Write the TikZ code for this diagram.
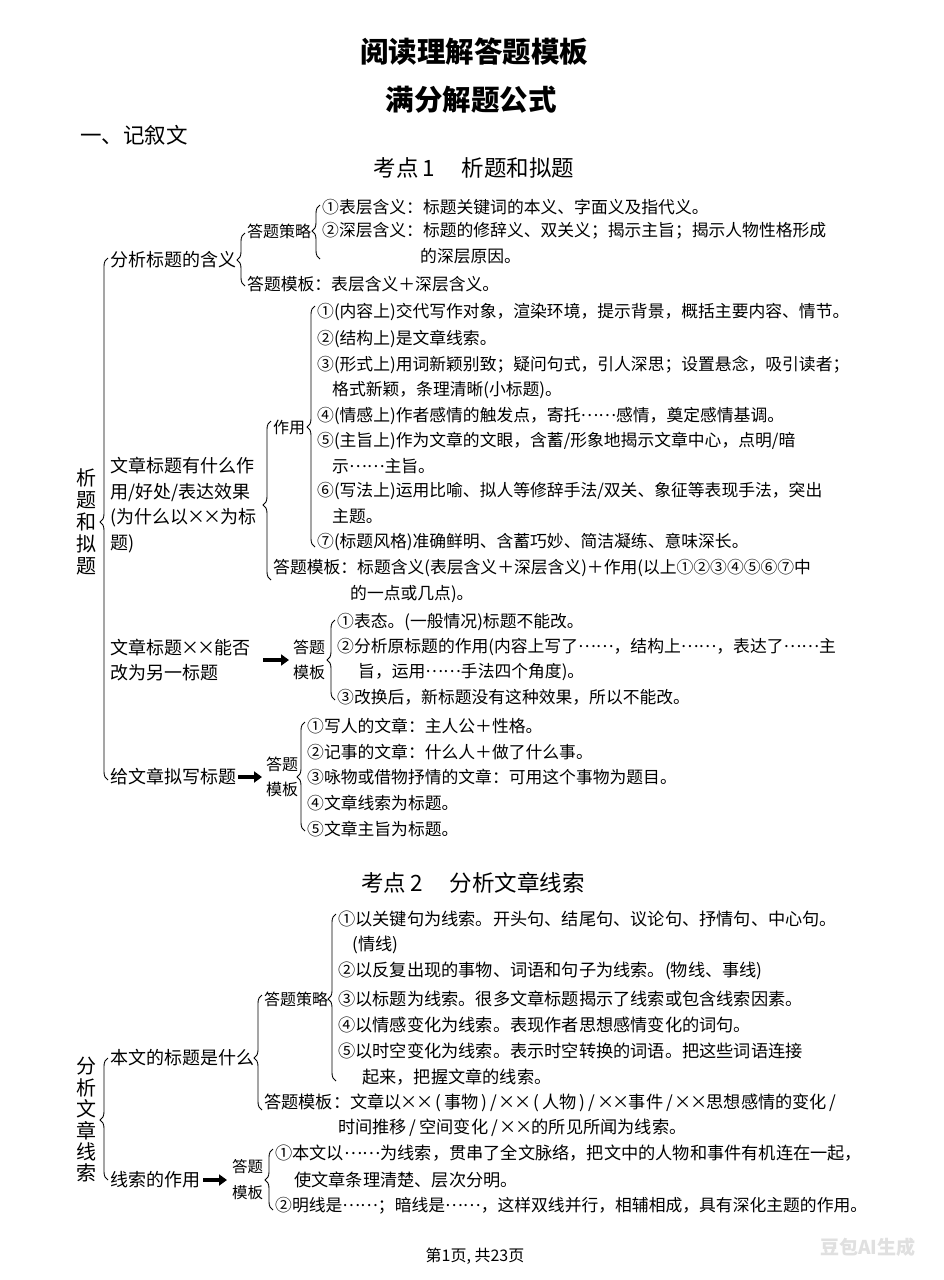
\documentclass[tikz,border=0pt]{standalone}
\usepackage{fontspec}
\setmainfont{Noto Sans CJK SC}
\usetikzlibrary{decorations.pathreplacing,arrows.meta}
\newcommand\mytimes{\makebox[0.9em]{×}}
\newcommand\myell{\raisebox{0.3em}{……}}
\newcommand\mysl{\,/\,}
\newcommand\mybrace[4]{\pgfmathsetmacro\myasp{(#3-#4)/(#3-#2)}%
  \draw[brc,decoration={brace,amplitude=8pt,aspect=\myasp}] (#1+4,#3) -- (#1+4,#2);}
\tikzset{
  body/.style={inner sep=0pt, anchor=west, font=\fontsize{16.8}{26}\selectfont},
  bodyb/.style={inner sep=0pt, anchor=west, font=\fontsize{17.2}{26}\selectfont},
  lab/.style={inner sep=0pt, anchor=west, align=left, font=\fontsize{18}{25.5}\selectfont},
  dt/.style={inner sep=0pt, anchor=west, align=center, font=\fontsize{16}{25}\selectfont},
  vlab/.style={inner sep=0pt, align=center, font=\fontsize{20}{22}\selectfont},
  ttl/.style={inner sep=0pt, font=\bfseries\fontsize{28.5}{30}\selectfont},
  kd/.style={inner sep=0pt, font=\fontsize{22.5}{24}\selectfont},
  brc/.style={decorate, line width=0.9pt},
  fat/.style={line width=3.6pt, -{Triangle[length=8pt,width=11pt]}},
}
\begin{document}
\begin{tikzpicture}[x=1pt,y=-1pt]
\fill[white] (0,0) rectangle (943,1280);
\useasboundingbox (0,0) rectangle (943,1280);

% titles
\node[ttl] (t1) at (474,52) {阅读理解答题模板};
\node[ttl] (t2) at (471,100) {满分解题公式};
\node[inner sep=0pt, anchor=west, font=\fontsize{21.5}{24}\selectfont] (h1) at (80,135) {一、记叙文};
\node[kd] (k1) at (474,168) {考点\,1\hspace{1.2em}析题和拟题};

% vertical labels
\node[vlab] (v1) at (86,522) {析\\题\\和\\拟\\题};
\node[vlab, font=\fontsize{20}{21.4}\selectfont] (v2) at (86,1120) {分\\析\\文\\章\\线\\索};

% level-1 labels
\node[lab] (l1) at (110,260) {分析标题的含义};
\node[lab] (l2) at (110,505) {文章标题有什么作\\用/好处/表达效果\\(为什么以\mytimes\mytimes 为标\\题)};
\node[lab] (l3) at (110,660) {文章标题\mytimes\mytimes 能否\\改为另一标题};
\node[lab] (l4) at (110,777) {给文章拟写标题};
\node[lab] (l5) at (110,1058) {本文的标题是什么};
\node[lab] (l6) at (110,1180) {线索的作用};

% braces
\mybrace{104}{258}{780}{522}
\mybrace{241}{233}{286}{260}
\mybrace{316}{205}{259}{231}
\mybrace{267}{421}{580}{505}
\mybrace{311}{306}{547}{427}
\mybrace{331}{620}{700}{660}
\mybrace{301}{722}{831}{777}
\mybrace{104}{1058}{1180}{1120}
\mybrace{258}{995}{1110}{1058}
\mybrace{332}{914}{1081}{999}
\mybrace{269}{1149}{1210}{1180}

% ---- block 1
\node[body, font=\fontsize{16}{26}\selectfont] (s1) at (247,231) {答题策略};
\node[body] (s1m) at (247,284) {答题模板：表层含义＋深层含义。};
\node[body] (a1) at (322,207) {①表层含义：标题关键词的本义、字面义及指代义。};
\node[body] (a2) at (322,231) {②深层含义：标题的修辞义、双关义；揭示主旨；揭示人物性格形成};
\node[body] (a2b) at (420,256) {的深层原因。};

% ---- block 2
\node[body, font=\fontsize{16}{26}\selectfont] (zy) at (273,427) {作用};
\node[body] (b1) at (317,312) {①(内容上)交代写作对象，渲染环境，提示背景，概括主要内容、情节。};
\node[body] (b2) at (317,339) {②(结构上)是文章线索。};
\node[body] (b3) at (317,365) {③(形式上)用词新颖别致；疑问句式，引人深思；设置悬念，吸引读者；};
\node[body] (b3b) at (332,390) {格式新颖，条理清晰(小标题)。};
\node[body] (b4) at (317,416) {④(情感上)作者感情的触发点，寄托\myell 感情，奠定感情基调。};
\node[body] (b5) at (317,441) {⑤(主旨上)作为文章的文眼，含蓄/形象地揭示文章中心，点明/暗};
\node[body] (b5b) at (332,466) {示\myell 主旨。};
\node[body] (b6) at (317,491) {⑥(写法上)运用比喻、拟人等修辞手法/双关、象征等表现手法，突出};
\node[body] (b6b) at (332,516) {主题。};
\node[body] (b7) at (317,542) {⑦(标题风格)准确鲜明、含蓄巧妙、简洁凝练、意味深长。};
\node[body] (bm) at (273,568) {答题模板：标题含义(表层含义＋深层含义)＋作用(以上①②③④⑤⑥⑦中};
\node[body] (bmb) at (350,594) {的一点或几点)。};

% ---- block 3
\node[dt] (d3) at (293,660) {答题\\模板};
\draw[fat] ([xshift=12pt]l3.east) -- ([xshift=-4pt]d3.west);
\node[body] (c1) at (337,622) {①表态。(一般情况)标题不能改。};
\node[body] (c2) at (337,647) {②分析原标题的作用(内容上写了\myell，结构上\myell，表达了\myell 主};
\node[body] (c2b) at (358,672) {旨，运用\myell 手法四个角度)。};
\node[body] (c3) at (337,697) {③改换后，新标题没有这种效果，所以不能改。};

% ---- block 4
\node[dt] (d4) at (266,777) {答题\\模板};
\draw[fat] ([xshift=2pt]l4.east) -- ([xshift=-4pt]d4.west);
\node[body] (e1) at (307,726) {①写人的文章：主人公＋性格。};
\node[body] (e2) at (307,752) {②记事的文章：什么人＋做了什么事。};
\node[body] (e3) at (307,777) {③咏物或借物抒情的文章：可用这个事物为题目。};
\node[body] (e4) at (307,803) {④文章线索为标题。};
\node[body] (e5) at (307,829) {⑤文章主旨为标题。};

% ---- section 2
\node[kd] (k2) at (473,883) {考点\,2\hspace{1.2em}分析文章线索};
\node[body, font=\fontsize{16}{26}\selectfont] (s2) at (264,999) {答题策略};
\node[bodyb] (s2m) at (264,1103) {答题模板：文章以\mytimes\mytimes\,(\,事物\,)\mysl\mytimes\mytimes\,(\,人物\,)\mysl\mytimes\mytimes 事件\mysl\mytimes\mytimes 思想感情的变化\mysl};
\node[bodyb] (s2mb) at (338,1128) {时间推移\mysl 空间变化\mysl\mytimes\mytimes 的所见所闻为线索。};
\node[bodyb] (f1) at (338,919) {①以关键句为线索。开头句、结尾句、议论句、抒情句、中心句。};
\node[bodyb] (f1b) at (352,945) {(情线)};
\node[bodyb] (f2) at (338,971) {②以反复出现的事物、词语和句子为线索。(物线、事线)};
\node[bodyb] (f3) at (338,999) {③以标题为线索。很多文章标题揭示了线索或包含线索因素。};
\node[bodyb] (f4) at (338,1025) {④以情感变化为线索。表现作者思想感情变化的词句。};
\node[bodyb] (f5) at (338,1051) {⑤以时空变化为线索。表示时空转换的词语。把这些词语连接};
\node[bodyb] (f5b) at (362,1077) {起来，把握文章的线索。};

\node[dt, font=\fontsize{15.5}{26}\selectfont] (d6) at (232,1180) {答题\\模板};
\draw[fat] ([xshift=3pt]l6.east) -- ([xshift=-5pt]d6.west);
\node[bodyb] (g1) at (275,1153) {①本文以\myell 为线索，贯串了全文脉络，把文中的人物和事件有机连在一起，};
\node[bodyb] (g1b) at (294,1180) {使文章条理清楚、层次分明。};
\node[bodyb, font=\fontsize{16.8}{26}\selectfont] (g2) at (275,1206) {②明线是\myell；暗线是\myell，这样双线并行，相辅相成，具有深化主题的作用。};

% footer
\node[inner sep=0pt, font=\fontsize{16}{18}\selectfont] (ft) at (475,1256) {第1页, 共23页};
\node[inner sep=0pt, text=black!12, font=\bfseries\fontsize{19}{20}\selectfont] (wm) at (868,1247) {豆包AI生成};
\end{tikzpicture}
\end{document}
